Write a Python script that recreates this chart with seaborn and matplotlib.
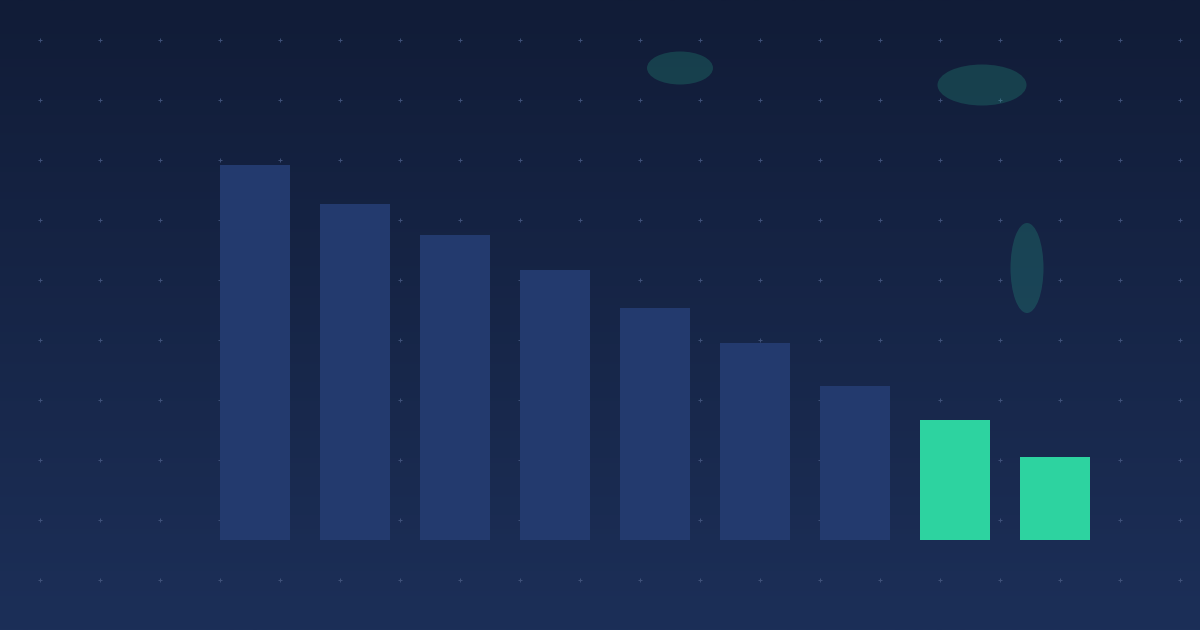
import numpy as np
import matplotlib
matplotlib.use("Agg")
import matplotlib.pyplot as plt
from matplotlib.patches import Ellipse
import seaborn as sns

# bar data (bottom baseline = 0)
categories = ["1", "2", "3", "4", "5", "6", "7", "8", "9"]
values = [375, 336, 305, 270, 232, 197, 154, 120, 83]
highlight = [False, False, False, False, False, False, False, True, True]

BG_TOP = "#111c37"
BG_BOTTOM = "#1c2f58"
BAR_BLUE = "#233a6e"
BAR_GREEN = "#2dd3a0"
DOT = "#43557e"

sns.set_theme(style="white")
fig = plt.figure(figsize=(12, 6.3), dpi=100)

# background: vertical gradient, dot grid and soft blobs, in pixel coords
bg = fig.add_axes([0, 0, 1, 1])
bg.set_xlim(0, 1200)
bg.set_ylim(630, 0)
bg.axis("off")
c0 = np.array(matplotlib.colors.to_rgb(BG_TOP))
c1 = np.array(matplotlib.colors.to_rgb(BG_BOTTOM))
t = np.linspace(0, 1, 256)[:, None, None]
grad = c0 * (1 - t) + c1 * t
bg.imshow(grad, extent=[0, 1200, 630, 0], aspect="auto", zorder=0)

gx, gy = np.meshgrid(np.arange(40, 1200, 60), np.arange(40, 600, 60))
bg.scatter(gx.ravel(), gy.ravel(), marker="+", s=10, linewidths=0.7,
           color=DOT, alpha=0.9, zorder=1)

for (cx, cy, w, h) in [(680, 68, 66, 33), (982, 85, 89, 41), (1027, 268, 33, 90)]:
    bg.add_patch(Ellipse((cx, cy), w, h, facecolor=BAR_GREEN, alpha=0.19,
                         edgecolor="none", zorder=2))

# bars
ax = fig.add_axes([0, 0, 1, 1])
ax.patch.set_alpha(0)
colors = [BAR_GREEN if h else BAR_BLUE for h in highlight]
sns.barplot(x=categories, y=values, hue=categories, palette=colors,
            width=0.7, legend=False, saturation=1, linewidth=0,
            edgecolor="none", ax=ax, zorder=3)
ax.set_xlim(-2.55, 9.45)
ax.set_ylim(-90, 540)
ax.axis("off")

fig.savefig("out.png", dpi=100)
